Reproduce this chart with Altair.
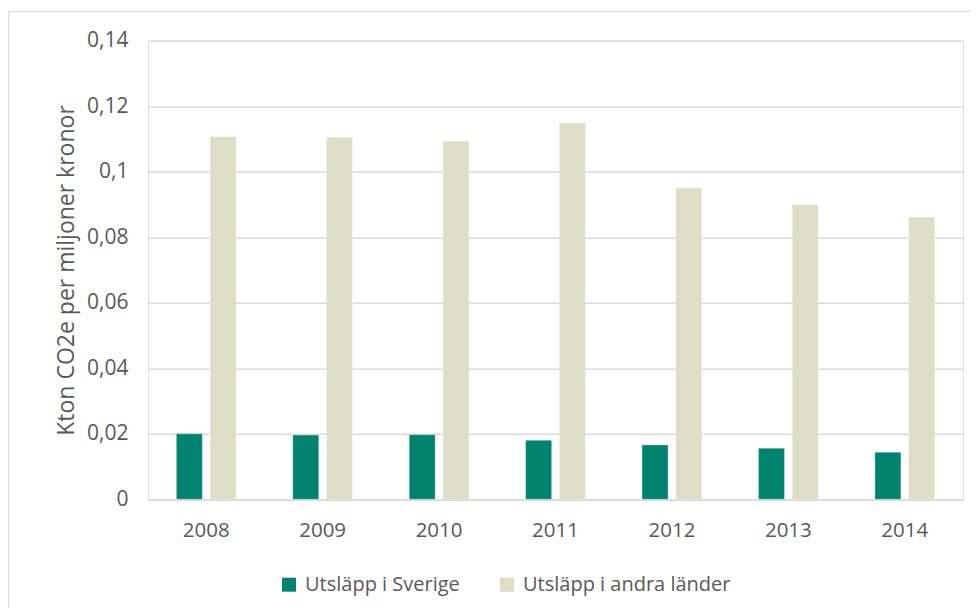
import altair as alt
import pandas as pd

years = ["2008", "2009", "2010", "2011", "2012", "2013", "2014"]
series = ["Utsläpp i Sverige", "Utsläpp i andra länder"]
sverige = [0.0200, 0.0196, 0.0197, 0.0180, 0.0166, 0.0156, 0.0144]
andra = [0.1107, 0.1105, 0.1094, 0.1149, 0.0950, 0.0899, 0.0862]
colors = ["#00846f", "#dcdec5"]

rows = []
for i, y in enumerate(years):
    rows.append({"year": y, "series": series[0], "value": sverige[i]})
    rows.append({"year": y, "series": series[1], "value": andra[i]})
df = pd.DataFrame(rows)

FONT = "Open Sans"
TXT = "#595959"
W, H = 815, 458.6

bars = alt.Chart(df).mark_bar(stroke="#ffffff", strokeWidth=0.6, strokeOpacity=0.5).encode(
    x=alt.X("year:N", sort=years,
            scale=alt.Scale(paddingInner=0.487, paddingOuter=0.2435),
            axis=alt.Axis(title=None, labelAngle=0, labelFont=FONT, labelFontSize=20.5,
                          labelColor=TXT, labelPadding=21, ticks=False, domain=False,
                          grid=False)),
    xOffset=alt.XOffset("series:N", sort=series, scale=alt.Scale(paddingInner=0.23, paddingOuter=0)),
    y=alt.Y("value:Q", scale=alt.Scale(domain=[0, 0.14], nice=False),
            axis=alt.Axis(title="Kton CO2e per miljoner kronor", values=[0, 0.02, 0.04, 0.06, 0.08, 0.10, 0.12, 0.14],
                          labelExpr="replace(toString(round(datum.value*100)/100), '.', ',')",
                          labelFont=FONT, labelFontSize=21, labelColor=TXT, labelPadding=20,
                          titleFont=FONT, titleFontSize=23, titleColor=TXT, titleFontWeight="normal",
                          titlePadding=8, ticks=False, domain=False,
                          grid=True, gridColor="#d9d9d9", gridWidth=1.6)),
    color=alt.Color("series:N", sort=series,
                    scale=alt.Scale(domain=series, range=colors),
                    legend=alt.Legend(title=None, orient="none", legendX=131, legendY=534,
                                      direction="horizontal", symbolType="square",
                                      symbolSize=196, symbolStrokeWidth=0,
                                      labelFont=FONT, labelFontSize=20, labelColor=TXT,
                                      labelLimit=0, labelOffset=6, columnPadding=37, padding=0)),
)

border = alt.Chart(pd.DataFrame({"a": [0]})).mark_rect(
    fill=None, stroke="#d9d9d9", strokeWidth=1, clip=False
).encode(
    x=alt.value(-139.5), x2=alt.value(W + 40),
    y=alt.value(-29.2), y2=alt.value(H + 200),
)

chart = alt.layer(border, bars).properties(
    width=W, height=H,
    autosize=alt.AutoSizeParams(type="none"),
    padding={"left": 140, "top": 32.7, "right": 8, "bottom": 108.7},
).configure_view(stroke=None).configure(background="white")

chart.save("out.html", embed_options={"renderer": "svg", "actions": False})
